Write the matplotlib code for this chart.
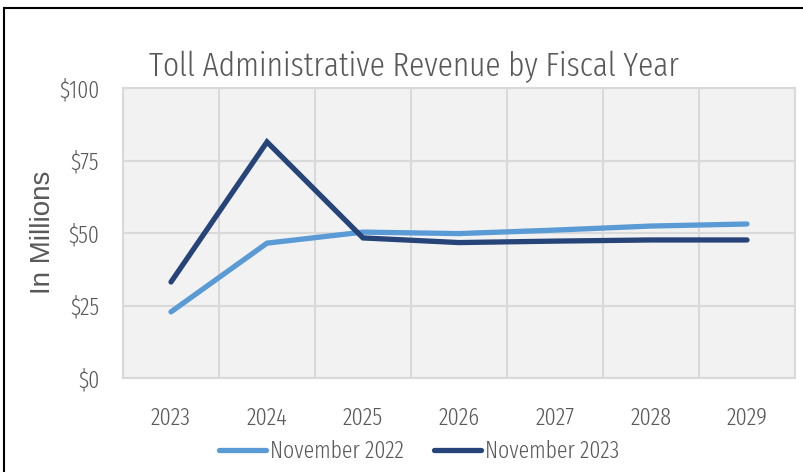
import matplotlib
matplotlib.use("Agg")
import matplotlib.pyplot as plt
from matplotlib.patches import Rectangle

years = ["2023", "2024", "2025", "2026", "2027", "2028", "2029"]
nov_2022 = [22.8, 46.5, 50.3, 49.8, 51.0, 52.4, 53.1]
nov_2023 = [33.1, 81.4, 48.3, 46.7, 47.2, 47.6, 47.6]
y_ticks = [0, 25, 50, 75, 100]
y_labels = ["$0", "$25", "$50", "$75", "$100"]

narrow = ["Fira Sans Extra Condensed", "DejaVu Sans"]
grey = "#595959"

fig = plt.figure(figsize=(8.04, 4.72), dpi=100)
ax = fig.add_axes([123 / 804, 1 - 378 / 472, 672 / 804, 290 / 472])
ax.set_facecolor("#f2f2f2")

x = [i + 0.5 for i in range(len(years))]
ax.plot(x, nov_2022, color="#5b9bd5", lw=3.8, solid_capstyle="round",
        solid_joinstyle="miter", label="November 2022")
ax.plot(x, nov_2023, color="#264478", lw=3.8, solid_capstyle="round",
        solid_joinstyle="miter", label="November 2023")

ax.set_xlim(0, len(years))
ax.set_ylim(0, 100)
ax.set_xticks(range(len(years) + 1))
ax.set_xticklabels([])
ax.set_xticks(x, minor=True)
ax.set_xticklabels(years, minor=True, fontfamily=narrow, fontsize=17.5,
                   fontweight=300, color=grey)
ax.set_yticks(y_ticks)
ax.set_yticklabels(y_labels, fontfamily=narrow, fontsize=17, fontweight=300,
                   color=grey)
ax.tick_params(which="both", length=0)
ax.tick_params(axis="x", which="minor", pad=21)
ax.tick_params(axis="y", pad=17)
ax.grid(True, which="major", color="#d9d9d9", lw=1.5)
ax.set_axisbelow(True)
for s in ax.spines.values():
    s.set_color("#d9d9d9")
    s.set_linewidth(1.5)

# y label placed by hand so it sits where the reference has it
fig.text(43 / 804, 1 - 232 / 472, "In Millions", rotation=90, ha="center",
         va="center", fontfamily="Liberation Sans", fontsize=20, color=grey)
fig.text(414 / 804, 1 - 76 / 472, "Toll Administrative Revenue by Fiscal Year",
         ha="center", va="baseline", fontfamily=narrow, fontsize=24.5,
         fontweight=300, color=grey)

fig.legend(loc="center", bbox_to_anchor=(419 / 804, 1 - 451 / 472), ncol=2,
           frameon=False, handlelength=2.0, handletextpad=0.15, columnspacing=1.3,
           prop={"family": narrow, "size": 17, "weight": 300}, labelcolor=grey)

fig.patches.append(Rectangle((4 / 804, -0.1), 2, 1 - 8 / 472 + 0.1,
                             transform=fig.transFigure, fill=False,
                             edgecolor="black", lw=1.5))

fig.savefig("out.png", dpi=100)
